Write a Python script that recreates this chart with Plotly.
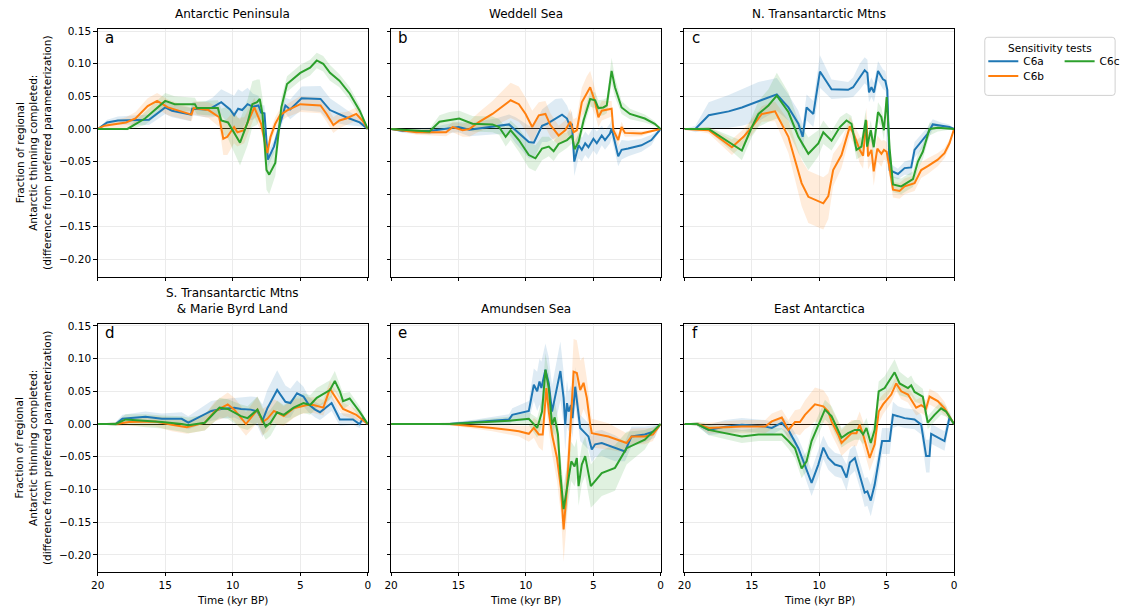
import plotly.graph_objects as go

# ---------------------------------------------------------------------------
# Data: time (kyr BP), difference from preferred parameterization, and the
# half-width of the uncertainty envelope for each sensitivity test.
# ---------------------------------------------------------------------------
TESTS = ["C6a", "C6b", "C6c"]
COLORS = {"C6a": "#1f77b4", "C6b": "#ff7f0e", "C6c": "#2ca02c"}
BANDS = {"C6a": "rgba(31,119,180,0.15)", "C6b": "rgba(255,127,14,0.15)",
         "C6c": "rgba(44,160,44,0.15)"}

REGIONS = ["Antarctic Peninsula", "Weddell Sea", "N. Transantarctic Mtns",
           "S. Transantarctic Mtns<br>& Marie Byrd Land", "Amundsen Sea",
           "East Antarctica"]
LETTERS = ["a", "b", "c", "d", "e", "f"]

X_TICKS = [20, 15, 10, 5, 0]
Y_TICKS = [0.15, 0.10, 0.05, 0.0, -0.05, -0.10, -0.15, -0.20]
Y_TICK_TEXT = ["0.15", "0.10", "0.05", "0.00", "\u22120.05", "\u22120.10",
               "\u22120.15", "\u22120.20"]

# --- (a) Antarctic Peninsula ---
A_T_C6A = [20, 19.3, 18.5, 16.2, 15.0, 14.5, 13.1, 13.0, 12.0, 11.5, 10.85, 10.2, 9.9, 9.6, 9.3, 8.9, 8.5, 8.1, 7.9, 7.65, 7.4, 6.95, 6.6, 6.1, 5.75, 4.9, 3.5, 2.8, 1.6, 0.6, 0]
A_Y_C6A = [0, 0.010, 0.013, 0.014, 0.033, 0.028, 0.022, 0.031, 0.030, 0.033, 0.041, 0.030, 0.021, 0.031, 0.029, 0.038, 0.034, 0.036, 0.025, 0.024, -0.047, -0.027, 0.000, 0.036, 0.030, 0.047, 0.046, 0.029, 0.018, 0.010, 0]
A_S_C6A = [0, 0.004, 0.006, 0.008, 0.01, 0.01, 0.01, 0.01, 0.012, 0.015, 0.02, 0.025, 0.03, 0.03, 0.028, 0.025, 0.02, 0.015, 0.012, 0.012, 0.012, 0.01, 0.01, 0.012, 0.015, 0.018, 0.02, 0.018, 0.012, 0.006, 0]
A_T_C6B = [20, 19.5, 17.9, 17.2, 16.3, 15.6, 14.8, 13.05, 12.9, 11.8, 11.0, 10.7, 10.4, 9.9, 9.65, 9.15, 8.4, 7.9, 7.65, 7.44, 7.2, 6.85, 6.5, 6.0, 5.0, 3.5, 3.05, 2.55, 2.1, 1.6, 0.85, 0.4, 0]
A_Y_C6B = [0, 0.005, 0.010, 0.016, 0.035, 0.043, 0.033, 0.022, 0.032, 0.029, 0.018, -0.015, -0.012, 0.003, -0.005, -0.002, 0.033, 0.008, -0.017, -0.037, -0.012, 0.008, 0.021, 0.028, 0.038, 0.036, 0.023, 0.006, 0.013, 0.016, 0.023, 0.013, 0]
A_S_C6B = [0, 0.004, 0.008, 0.01, 0.012, 0.012, 0.012, 0.01, 0.01, 0.012, 0.015, 0.025, 0.028, 0.025, 0.022, 0.02, 0.015, 0.012, 0.012, 0.012, 0.01, 0.01, 0.01, 0.01, 0.012, 0.012, 0.012, 0.012, 0.012, 0.01, 0.01, 0.008, 0]
A_T_C6C = [20, 17.8, 16.5, 15.0, 14.3, 12.8, 12.65, 11.1, 10.85, 10.35, 9.46, 8.9, 8.55, 8.2, 8.0, 7.8, 7.5, 7.3, 6.85, 6.4, 5.98, 5.0, 4.27, 3.78, 3.3, 2.8, 2.1, 1.33, 0.6, 0]
A_Y_C6C = [0, 0, 0.016, 0.043, 0.038, 0.038, 0.032, 0.032, 0.013, 0.010, -0.021, 0.010, 0.038, 0.041, 0.046, 0.023, -0.063, -0.070, -0.052, 0.033, 0.069, 0.086, 0.094, 0.105, 0.100, 0.086, 0.074, 0.054, 0.028, 0]
A_S_C6C = [0, 0.002, 0.01, 0.012, 0.012, 0.01, 0.01, 0.012, 0.018, 0.025, 0.035, 0.035, 0.035, 0.035, 0.03, 0.025, 0.03, 0.03, 0.02, 0.015, 0.012, 0.012, 0.012, 0.012, 0.012, 0.012, 0.01, 0.01, 0.008, 0]

# --- (b) Weddell Sea ---
B_T_C6A = [20, 19.12, 17.15, 14.99, 14.2, 12.24, 11.25, 10.76, 9.78, 9.41, 8.8, 8.43, 7.81, 7.32, 6.95, 6.71, 6.58, 6.41, 6.09, 5.85, 5.6, 5.36, 4.99, 4.74, 4.37, 4.13, 3.76, 3.64, 3.15, 2.9, 2.41, 1.43, 0.69, 0]
B_Y_C6A = [0, -0.003, -0.003, 0.003, -0.001, 0.004, 0.007, -0.002, -0.020, -0.021, 0.005, 0.008, 0.016, 0.022, 0.016, 0.003, 0.008, -0.050, -0.025, -0.032, -0.022, -0.028, -0.015, -0.022, -0.010, -0.017, -0.007, 0.001, -0.042, -0.032, -0.030, -0.025, -0.017, 0]
B_S_C6A = [0, 0.003, 0.005, 0.008, 0.01, 0.012, 0.015, 0.02, 0.025, 0.025, 0.025, 0.028, 0.03, 0.025, 0.02, 0.02, 0.02, 0.022, 0.02, 0.018, 0.018, 0.018, 0.018, 0.018, 0.015, 0.015, 0.015, 0.015, 0.015, 0.015, 0.012, 0.01, 0.008, 0]
B_T_C6B = [20, 18.13, 15.92, 15.43, 14.69, 14.2, 13.46, 12.48, 11.13, 10.52, 10.02, 9.53, 9.04, 8.55, 8.18, 7.57, 7.08, 6.71, 6.46, 6.22, 5.85, 5.48, 5.23, 4.86, 4.62, 4.37, 3.64, 3.51, 3.15, 2.9, 2.65, 1.43, 0]
B_Y_C6B = [0, -0.005, -0.005, 0.003, -0.002, 0.000, 0.011, 0.023, 0.044, 0.038, 0.023, 0.003, 0.021, 0.023, 0.006, -0.010, -0.002, 0.011, -0.005, -0.002, 0.041, 0.056, 0.064, 0.041, 0.018, 0.028, 0.031, -0.002, -0.017, 0.003, -0.006, -0.007, 0]
B_S_C6B = [0, 0.004, 0.006, 0.008, 0.01, 0.012, 0.015, 0.02, 0.027, 0.027, 0.025, 0.025, 0.02, 0.02, 0.018, 0.015, 0.015, 0.02, 0.02, 0.02, 0.022, 0.025, 0.025, 0.02, 0.015, 0.015, 0.012, 0.01, 0.01, 0.008, 0.006, 0.004, 0]
B_T_C6C = [20, 17.15, 16.41, 15.68, 14.94, 13.96, 12.48, 11.99, 11.5, 11.13, 10.52, 9.78, 9.29, 8.8, 8.3, 7.94, 7.57, 6.95, 6.58, 6.39, 6.09, 5.72, 5.23, 4.86, 4.62, 4.25, 4.0, 3.64, 3.39, 2.9, 2.28, 1.18, 0.44, 0]
B_Y_C6C = [0, -0.004, 0.011, 0.014, 0.016, 0.008, 0.007, 0.003, -0.012, -0.002, -0.017, -0.040, -0.045, -0.030, -0.027, -0.034, -0.023, -0.017, -0.010, -0.031, -0.020, 0.013, 0.046, 0.044, 0.032, 0.033, 0.036, 0.089, 0.064, 0.033, 0.023, 0.016, 0.008, 0]
B_S_C6C = [0, 0.004, 0.01, 0.012, 0.012, 0.012, 0.012, 0.012, 0.015, 0.015, 0.018, 0.02, 0.02, 0.018, 0.015, 0.015, 0.015, 0.012, 0.012, 0.012, 0.012, 0.012, 0.012, 0.012, 0.012, 0.012, 0.012, 0.02, 0.015, 0.01, 0.008, 0.006, 0.004, 0]

# --- (c) N. Transantarctic Mtns ---
C_T_C6A = [20, 19.19, 18.2, 16.72, 15.74, 14.51, 13.15, 12.29, 11.55, 11.23, 10.94, 10.44, 9.95, 9.09, 7.86, 7.49, 7.0, 6.63, 6.43, 6.31, 6.13, 5.94, 5.64, 5.27, 5.1, 4.95, 4.78, 4.16, 3.67, 3.18, 2.93, 2.32, 1.95, 1.58, 0.96, 0.34, 0]
C_Y_C6A = [0, 0, 0.021, 0.027, 0.033, 0.042, 0.053, 0.033, 0.008, -0.012, 0.033, 0.023, 0.088, 0.061, 0.060, 0.064, 0.080, 0.090, 0.086, 0.056, 0.064, 0.056, 0.089, 0.076, 0.074, 0.060, -0.063, -0.069, -0.060, -0.059, -0.032, -0.017, -0.007, 0.007, 0.005, 0.003, 0]
C_S_C6A = [0, 0.005, 0.02, 0.025, 0.028, 0.03, 0.025, 0.02, 0.02, 0.02, 0.02, 0.02, 0.025, 0.015, 0.012, 0.015, 0.02, 0.02, 0.02, 0.015, 0.015, 0.015, 0.015, 0.015, 0.015, 0.012, 0.01, 0.008, 0.01, 0.012, 0.012, 0.012, 0.01, 0.008, 0.005, 0.004, 0]
C_T_C6B = [20, 18.2, 16.48, 15.62, 15.0, 14.26, 13.28, 12.29, 11.31, 10.81, 9.7, 9.33, 8.97, 8.35, 7.73, 7.36, 7.0, 6.75, 6.5, 6.38, 6.13, 5.96, 5.69, 5.39, 5.2, 5.0, 4.78, 4.53, 4.04, 3.67, 2.93, 2.44, 1.95, 1.21, 0.71, 0.34, 0]
C_Y_C6B = [0, -0.002, -0.028, -0.012, 0.003, 0.023, 0.027, -0.012, -0.083, -0.104, -0.114, -0.103, -0.063, -0.040, 0.004, -0.012, -0.032, -0.041, 0.013, -0.042, -0.032, -0.065, -0.030, -0.038, -0.032, -0.035, -0.060, -0.093, -0.095, -0.088, -0.083, -0.063, -0.057, -0.047, -0.037, -0.022, 0]
C_S_C6B = [0, 0.005, 0.012, 0.012, 0.012, 0.012, 0.015, 0.025, 0.035, 0.04, 0.04, 0.035, 0.025, 0.02, 0.015, 0.015, 0.02, 0.02, 0.02, 0.02, 0.02, 0.022, 0.02, 0.02, 0.015, 0.015, 0.015, 0.012, 0.012, 0.012, 0.012, 0.012, 0.012, 0.01, 0.008, 0.006, 0]
C_T_C6C = [20, 18.2, 15.74, 15.0, 14.51, 13.77, 13.15, 12.29, 11.55, 10.81, 10.07, 9.7, 9.09, 8.47, 7.98, 7.61, 7.24, 6.87, 6.55, 6.45, 6.18, 5.96, 5.64, 5.39, 5.2, 5.0, 4.78, 4.53, 3.92, 3.05, 2.68, 2.32, 1.82, 1.21, 0]
C_Y_C6C = [0, 0, -0.033, 0.003, 0.023, 0.036, 0.051, 0.026, -0.012, -0.038, -0.022, -0.005, -0.018, 0.003, 0.013, 0.008, -0.032, -0.027, 0.014, -0.027, -0.002, -0.028, 0.026, 0.018, -0.002, 0.049, -0.030, -0.085, -0.088, -0.077, -0.050, -0.035, 0.000, 0.002, 0]
C_S_C6C = [0, 0.003, 0.015, 0.015, 0.02, 0.025, 0.035, 0.03, 0.025, 0.025, 0.02, 0.018, 0.015, 0.015, 0.012, 0.012, 0.015, 0.015, 0.015, 0.015, 0.015, 0.015, 0.015, 0.015, 0.015, 0.015, 0.012, 0.012, 0.012, 0.012, 0.012, 0.012, 0.01, 0.006, 0]

# --- (d) S. Transantarctic Mtns & Marie Byrd Land ---
D_T_C6A = [20, 18.66, 18.17, 16.46, 15.24, 13.78, 13.29, 12.8, 11.59, 10.85, 9.88, 9.39, 8.66, 8.17, 7.8, 7.44, 6.71, 6.1, 5.73, 5.24, 4.76, 4.39, 3.9, 3.54, 3.29, 2.68, 2.07, 1.1, 0.61, 0.37, 0]
D_Y_C6A = [0, 0, 0.008, 0.011, 0.008, 0.008, 0.002, 0.007, 0.020, 0.023, 0.025, 0.023, 0.022, 0.019, 0.005, 0.024, 0.052, 0.034, 0.032, 0.047, 0.042, 0.030, 0.022, 0.018, 0.022, 0.032, 0.007, 0.007, 0.000, 0.008, 0]
D_S_C6A = [0, 0.003, 0.006, 0.008, 0.008, 0.01, 0.01, 0.012, 0.015, 0.015, 0.015, 0.018, 0.02, 0.022, 0.025, 0.028, 0.03, 0.025, 0.022, 0.02, 0.015, 0.012, 0.012, 0.012, 0.012, 0.012, 0.01, 0.008, 0.006, 0.006, 0]
D_T_C6B = [20, 18.66, 17.68, 15.73, 14.51, 13.41, 12.07, 11.34, 10.37, 9.88, 9.02, 8.17, 7.8, 7.44, 6.95, 6.71, 6.22, 5.49, 5.0, 4.51, 4.02, 3.29, 2.8, 1.83, 0.85, 0]
D_Y_C6B = [0, 0, 0.003, 0.004, -0.001, -0.005, 0.002, 0.019, 0.030, 0.022, 0.000, 0.022, 0.003, 0.008, 0.020, 0.017, 0.012, 0.024, 0.027, 0.029, 0.029, 0.025, 0.054, 0.023, 0.014, 0]
D_S_C6B = [0, 0.003, 0.006, 0.008, 0.01, 0.01, 0.012, 0.015, 0.018, 0.018, 0.018, 0.02, 0.02, 0.02, 0.018, 0.018, 0.015, 0.015, 0.012, 0.012, 0.012, 0.012, 0.012, 0.01, 0.008, 0]
D_T_C6C = [20, 18.66, 17.93, 16.46, 15.24, 13.78, 13.29, 12.07, 10.98, 10.37, 9.39, 8.9, 8.17, 7.56, 7.2, 6.71, 6.22, 5.49, 4.76, 4.27, 3.78, 2.8, 2.44, 2.07, 1.83, 1.34, 0.61, 0]
D_Y_C6C = [0, 0, 0.007, 0.005, 0.003, 0.000, -0.002, 0.002, 0.025, 0.023, 0.012, 0.009, 0.022, -0.004, 0.002, 0.018, 0.014, 0.025, 0.032, 0.029, 0.040, 0.052, 0.066, 0.050, 0.035, 0.039, 0.019, 0]
D_S_C6C = [0, 0.003, 0.008, 0.01, 0.01, 0.012, 0.012, 0.012, 0.015, 0.015, 0.018, 0.018, 0.02, 0.02, 0.02, 0.018, 0.015, 0.015, 0.015, 0.015, 0.015, 0.015, 0.015, 0.012, 0.012, 0.01, 0.008, 0]

# --- (e) Amundsen Sea ---
E_T_C6A = [20, 15.68, 13.71, 11.25, 11.01, 9.78, 9.41, 9.16, 8.99, 8.85, 8.55, 8.3, 8.06, 7.44, 7.2, 7.08, 6.95, 6.83, 6.66, 6.54, 6.34, 6.09, 5.97, 5.6, 5.36, 5.11, 4.86, 4.37, 3.39, 2.65, 2.16, 1.18, 0.44, 0]
E_Y_C6A = [0, 0, 0.003, 0.007, 0.014, 0.020, 0.060, 0.050, 0.065, 0.055, 0.083, 0.062, 0.019, 0.081, 0.040, -0.001, 0.032, 0.019, 0.029, 0.009, 0.057, 0.019, -0.006, -0.014, -0.019, -0.039, -0.031, -0.029, -0.037, -0.042, -0.019, -0.016, -0.011, 0]
E_S_C6A = [0, 0.002, 0.004, 0.008, 0.01, 0.015, 0.025, 0.03, 0.035, 0.04, 0.04, 0.04, 0.04, 0.045, 0.04, 0.04, 0.035, 0.03, 0.03, 0.03, 0.03, 0.025, 0.02, 0.02, 0.02, 0.02, 0.02, 0.02, 0.02, 0.015, 0.015, 0.012, 0.01, 0]
E_T_C6B = [20, 15.68, 12.48, 10.52, 9.78, 9.41, 9.04, 8.75, 8.48, 8.3, 8.06, 7.69, 7.4, 7.2, 6.95, 6.78, 6.63, 6.46, 6.22, 5.97, 5.72, 5.48, 5.23, 5.11, 3.88, 2.53, 2.16, 1.18, 0.57, 0]
E_Y_C6B = [0, 0, -0.006, -0.011, -0.015, -0.006, -0.016, -0.016, 0.055, 0.019, -0.016, -0.052, -0.098, -0.161, -0.098, -0.036, 0.009, 0.080, 0.078, 0.052, 0.063, 0.040, 0.000, -0.014, -0.019, -0.029, -0.019, -0.019, -0.016, 0]
E_S_C6B = [0, 0.002, 0.005, 0.008, 0.012, 0.015, 0.02, 0.025, 0.03, 0.03, 0.03, 0.035, 0.04, 0.05, 0.045, 0.04, 0.045, 0.05, 0.05, 0.045, 0.04, 0.03, 0.025, 0.022, 0.02, 0.015, 0.012, 0.012, 0.01, 0]
E_T_C6C = [20, 15.68, 11.25, 9.78, 9.16, 8.8, 8.55, 8.3, 8.06, 7.86, 7.62, 7.44, 7.2, 6.95, 6.63, 6.39, 6.22, 6.09, 5.85, 5.6, 5.18, 4.37, 3.39, 2.53, 1.18, 0]
E_Y_C6C = [0, 0, 0.005, 0.008, -0.006, 0.019, 0.083, 0.055, -0.001, 0.010, -0.016, -0.077, -0.130, -0.098, -0.057, -0.065, -0.052, -0.095, -0.062, -0.049, -0.095, -0.075, -0.067, -0.037, -0.024, 0]
E_S_C6C = [0, 0.002, 0.006, 0.01, 0.015, 0.02, 0.025, 0.025, 0.025, 0.025, 0.025, 0.03, 0.035, 0.035, 0.03, 0.03, 0.03, 0.03, 0.03, 0.03, 0.033, 0.035, 0.035, 0.025, 0.015, 0]

# --- (f) East Antarctica ---
F_T_C6A = [20, 19.06, 18.2, 16.97, 15.74, 14.01, 13.52, 12.78, 12.29, 11.55, 10.57, 10.07, 9.7, 9.33, 8.84, 8.35, 7.98, 7.73, 7.36, 7.0, 6.63, 6.43, 6.18, 5.89, 5.52, 5.34, 4.78, 4.53, 4.16, 3.67, 2.93, 2.44, 2.07, 1.82, 1.7, 0.71, 0.34, 0]
F_Y_C6A = [0, 0, -0.009, -0.004, -0.001, -0.004, -0.006, 0.002, -0.009, -0.037, -0.090, -0.062, -0.036, -0.052, -0.062, -0.065, -0.082, -0.059, -0.052, -0.077, -0.105, -0.103, -0.117, -0.093, -0.052, -0.026, -0.026, 0.014, 0.012, 0.009, 0.007, -0.001, -0.049, -0.049, -0.015, -0.026, 0.010, 0]
F_S_C6A = [0, 0.003, 0.008, 0.01, 0.01, 0.01, 0.01, 0.01, 0.012, 0.015, 0.02, 0.02, 0.018, 0.018, 0.018, 0.018, 0.02, 0.02, 0.02, 0.02, 0.022, 0.022, 0.024, 0.022, 0.02, 0.02, 0.02, 0.02, 0.015, 0.015, 0.015, 0.015, 0.025, 0.025, 0.015, 0.015, 0.01, 0]
F_T_C6B = [20, 19.06, 18.2, 15.74, 14.01, 13.52, 12.78, 12.29, 11.8, 11.43, 11.06, 10.81, 10.32, 9.7, 9.33, 9.09, 8.6, 8.35, 8.1, 7.61, 7.24, 7.0, 6.75, 6.26, 5.89, 5.59, 5.27, 4.66, 4.29, 3.92, 3.42, 2.81, 2.44, 2.07, 1.82, 1.21, 0.71, 0]
F_Y_C6B = [0, 0, -0.006, -0.004, -0.004, 0.004, 0.010, -0.009, 0.003, 0.003, 0.014, 0.019, 0.030, 0.027, 0.019, 0.004, -0.016, -0.029, -0.024, -0.014, -0.014, -0.001, -0.016, -0.052, -0.031, 0.019, 0.030, 0.045, 0.062, 0.050, 0.045, 0.025, 0.029, 0.024, 0.042, 0.035, 0.024, 0]
F_S_C6B = [0, 0.003, 0.008, 0.01, 0.01, 0.012, 0.012, 0.015, 0.018, 0.02, 0.022, 0.024, 0.026, 0.025, 0.022, 0.02, 0.02, 0.02, 0.02, 0.02, 0.02, 0.02, 0.02, 0.02, 0.02, 0.018, 0.015, 0.012, 0.012, 0.012, 0.012, 0.012, 0.012, 0.012, 0.012, 0.012, 0.01, 0]
F_T_C6C = [20, 19.06, 18.2, 15.74, 14.51, 12.78, 12.29, 11.8, 11.31, 10.94, 10.57, 10.07, 9.58, 9.09, 8.6, 8.35, 7.86, 7.36, 7.0, 6.75, 6.5, 6.18, 5.89, 5.59, 5.15, 4.41, 4.04, 3.42, 3.18, 2.93, 2.32, 1.95, 1.45, 0.96, 0.59, 0]
F_Y_C6C = [0, 0, -0.009, -0.019, -0.016, -0.016, -0.026, -0.037, -0.068, -0.057, -0.026, -0.001, 0.022, 0.012, -0.011, -0.021, -0.014, -0.009, -0.009, -0.016, -0.006, -0.029, -0.009, 0.050, 0.055, 0.079, 0.062, 0.055, 0.059, 0.049, 0.042, 0.002, 0.014, 0.024, 0.019, 0]
F_S_C6C = [0, 0.003, 0.008, 0.01, 0.01, 0.01, 0.012, 0.015, 0.015, 0.015, 0.015, 0.015, 0.015, 0.015, 0.015, 0.015, 0.015, 0.015, 0.015, 0.015, 0.015, 0.015, 0.015, 0.015, 0.018, 0.02, 0.018, 0.015, 0.015, 0.015, 0.012, 0.01, 0.01, 0.01, 0.008, 0]

PANELS = [
    {"C6a": (A_T_C6A, A_Y_C6A, A_S_C6A), "C6b": (A_T_C6B, A_Y_C6B, A_S_C6B), "C6c": (A_T_C6C, A_Y_C6C, A_S_C6C)},
    {"C6a": (B_T_C6A, B_Y_C6A, B_S_C6A), "C6b": (B_T_C6B, B_Y_C6B, B_S_C6B), "C6c": (B_T_C6C, B_Y_C6C, B_S_C6C)},
    {"C6a": (C_T_C6A, C_Y_C6A, C_S_C6A), "C6b": (C_T_C6B, C_Y_C6B, C_S_C6B), "C6c": (C_T_C6C, C_Y_C6C, C_S_C6C)},
    {"C6a": (D_T_C6A, D_Y_C6A, D_S_C6A), "C6b": (D_T_C6B, D_Y_C6B, D_S_C6B), "C6c": (D_T_C6C, D_Y_C6C, D_S_C6C)},
    {"C6a": (E_T_C6A, E_Y_C6A, E_S_C6A), "C6b": (E_T_C6B, E_Y_C6B, E_S_C6B), "C6c": (E_T_C6C, E_Y_C6C, E_S_C6C)},
    {"C6a": (F_T_C6A, F_Y_C6A, F_S_C6A), "C6b": (F_T_C6B, F_Y_C6B, F_S_C6B), "C6c": (F_T_C6C, F_Y_C6C, F_S_C6C)},
]

for i, panel in enumerate(PANELS):
    for name, (t, y, s) in panel.items():
        if not (len(t) == len(y) == len(s)):
            raise ValueError(f"panel {LETTERS[i]} {name}: {len(t)} {len(y)} {len(s)}")

# ---------------------------------------------------------------------------
# Layout geometry (pixels in a 1132 x 614 page)
# ---------------------------------------------------------------------------
W, H = 1132, 614
COL_PX = [(91.5, 364.0), (387.5, 659.5), (683.5, 955.5)]
ROW_PX = [(25.0, 274.3), (321.7, 571.7)]
Y_RANGE = [-0.2262, 0.1535]
FONT = "DejaVu Sans"
GRID = "#ebebeb"

# Each legend entry gets its own legend box so the entries sit in two columns
LEGEND_OF = {"C6a": "legend", "C6c": "legend2", "C6b": "legend3"}
LEGEND_POS = {"legend": (985, 43), "legend2": (1062, 43), "legend3": (985, 58)}


def sfx(k):
    return "" if k == 1 else str(k)


fig = go.Figure()

# Envelopes first, so every line sits above every band
for k, panel in enumerate(PANELS, start=1):
    for name in TESTS:
        t, y, s = panel[name]
        upper = [v + d for v, d in zip(y, s)]
        lower = [v - d for v, d in zip(y, s)]
        fig.add_trace(go.Scatter(
            x=list(t) + list(t)[::-1], y=upper + lower[::-1],
            fill="toself", fillcolor=BANDS[name], line=dict(width=0),
            mode="lines", hoverinfo="skip", showlegend=False,
            xaxis=f"x{sfx(k)}", yaxis=f"y{sfx(k)}"))

for k, panel in enumerate(PANELS, start=1):
    for name in TESTS:
        t, y, s = panel[name]
        fig.add_trace(go.Scatter(
            x=t, y=y, mode="lines", name=name,
            line=dict(color=COLORS[name], width=2),
            legend=LEGEND_OF[name], legendgroup=name,
            showlegend=(k == 1), xaxis=f"x{sfx(k)}", yaxis=f"y{sfx(k)}"))

layout = {}
annotations = []
for k in range(1, 7):
    r, c = divmod(k - 1, 3)
    x0, x1 = COL_PX[c]
    top, bot = ROW_PX[r]
    axis_common = dict(
        showline=True, mirror=True, linecolor="black", linewidth=1,
        ticks="outside", ticklen=3.5, tickwidth=1, tickcolor="black",
        showgrid=True, gridcolor=GRID, gridwidth=1,
        tickfont=dict(family=FONT, size=10.5, color="black"))
    layout[f"xaxis{sfx(k)}"] = dict(
        domain=[x0 / W, x1 / W], range=[20, 0], tickvals=X_TICKS,
        showticklabels=(r == 1), zeroline=False, anchor=f"y{sfx(k)}", **axis_common)
    layout[f"yaxis{sfx(k)}"] = dict(
        domain=[1 - bot / H, 1 - top / H], range=Y_RANGE,
        tickvals=Y_TICKS, ticktext=Y_TICK_TEXT, showticklabels=(c == 0),
        zeroline=True, zerolinecolor="black", zerolinewidth=1,
        anchor=f"x{sfx(k)}", **axis_common)

    two_lines = "<br>" in REGIONS[k - 1]
    annotations.append(dict(
        text=REGIONS[k - 1], xref=f"x{sfx(k)} domain", yref=f"y{sfx(k)} domain",
        x=0.5, y=1, xanchor="center", yanchor="middle",
        yshift=23 if two_lines else 15, showarrow=False,
        font=dict(family=FONT, size=12, color="black")))
    annotations.append(dict(
        text=LETTERS[k - 1], xref=f"x{sfx(k)} domain", yref=f"y{sfx(k)} domain",
        x=0.02, y=1 - 9 / 248.6, xanchor="left", yanchor="middle",
        showarrow=False, font=dict(family=FONT, size=15, color="black")))

    if c == 0:
        annotations.append(dict(
            text="Fraction of regional<br>Antarctic thinning completed:<br>"
                 "(difference from preferred parameterization)",
            xref="paper", yref="paper", x=26.5 / W,
            y=1 - (top + bot) / 2 / H, xanchor="center", yanchor="middle",
            textangle=-90, showarrow=False,
            font=dict(family=FONT, size=10.5, color="black")))
    if r == 1:
        annotations.append(dict(
            text="Time (kyr BP)", xref="paper", yref="paper",
            x=(x0 + x1) / 2 / W, y=1 - 600 / H, xanchor="center",
            yanchor="middle", showarrow=False,
            font=dict(family=FONT, size=10.5, color="black")))

# Legend frame and heading
LX0, LX1, LY0, LY1, RAD = 986.5, 1118.0, 33.5, 92.0, 3.0


def px(x, y):
    return f"{x / W:.5f},{1 - y / H:.5f}"


frame = (f"M{px(LX0 + RAD, LY0)} L{px(LX1 - RAD, LY0)} Q{px(LX1, LY0)} {px(LX1, LY0 + RAD)} "
         f"L{px(LX1, LY1 - RAD)} Q{px(LX1, LY1)} {px(LX1 - RAD, LY1)} "
         f"L{px(LX0 + RAD, LY1)} Q{px(LX0, LY1)} {px(LX0, LY1 - RAD)} "
         f"L{px(LX0, LY0 + RAD)} Q{px(LX0, LY0)} {px(LX0 + RAD, LY0)} Z")
shapes = [dict(type="path", path=frame, xref="paper", yref="paper",
               line=dict(color="#d0d0d0", width=1), fillcolor="white",
               layer="below")]
annotations.append(dict(
    text="Sensitivity tests", xref="paper", yref="paper",
    x=(LX0 + LX1) / 2 / W, y=1 - 44 / H, xanchor="center", yanchor="middle",
    showarrow=False, font=dict(family=FONT, size=10.5, color="black")))

legend_common = dict(orientation="v", bgcolor="rgba(0,0,0,0)", borderwidth=0,
                     xanchor="left", yanchor="top",
                     font=dict(family=FONT, size=10.5, color="black"))
legends = {key: dict(x=lx / W, y=1 - ly / H, **legend_common)
           for key, (lx, ly) in LEGEND_POS.items()}

fig.update_layout(
    width=W, height=H, margin=dict(l=0, r=0, t=0, b=0),
    paper_bgcolor="white", plot_bgcolor="white",
    font=dict(family=FONT, size=10.5, color="black"),
    annotations=annotations, shapes=shapes,
    **legends, **layout)

fig.write_html("out.html")
